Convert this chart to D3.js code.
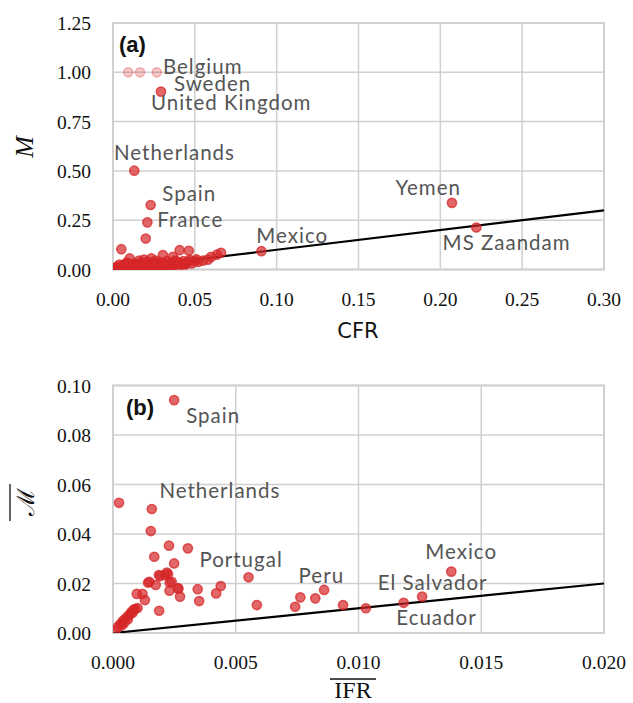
<!DOCTYPE html>
<html>
<head>
<meta charset="UTF-8">
<style>
  body { margin: 0; background: #fff; }
  .tick-label { font-family: "Liberation Serif", serif; font-size: 19.5px; fill: #111; }
  .country { font-family: Lato, sans-serif; font-size: 20.5px; fill: #555; letter-spacing: 1px; }
  .panel { font-family: "Liberation Sans", sans-serif; font-size: 22px; font-weight: bold; fill: #111; }
</style>
</head>
<body>
<svg id="chart" width="633" height="703"></svg>
<script src="https://d3js.org/d3.v7.min.js"></script>
<script>
// ---- panel (a): M vs CFR ----
const topCFR = [0.0293, 0.013, 0.023, 0.021, 0.020, 0.0907, 0.2071, 0.222,
  0.0051, 0.0102, 0.0234, 0.0305, 0.0366, 0.0407, 0.0463, 0.051, 0.060, 0.066, 0.0635,
  0.001, 0.002, 0.003, 0.004, 0.005, 0.006, 0.007, 0.008, 0.009, 0.010, 0.011, 0.012,
  0.013, 0.014, 0.015, 0.016, 0.017, 0.018, 0.019, 0.020, 0.021, 0.022, 0.023, 0.024,
  0.025, 0.026, 0.027, 0.028, 0.029, 0.030, 0.031, 0.032, 0.033, 0.034, 0.035, 0.036,
  0.037, 0.038, 0.039, 0.040, 0.042, 0.043, 0.045, 0.047, 0.048, 0.050, 0.052, 0.055,
  0.058, 0.003, 0.006, 0.009, 0.012, 0.015, 0.018, 0.021, 0.024, 0.027, 0.030, 0.033,
  0.004, 0.008, 0.016, 0.019, 0.0085,
  0.0015, 0.0045, 0.0075, 0.0105, 0.0135, 0.0165, 0.0195, 0.0225, 0.0255, 0.0285,
  0.0315, 0.0345, 0.0375, 0.0405, 0.0435, 0.0025, 0.0065, 0.0115, 0.0145, 0.0175,
  0.0205, 0.0245, 0.0265, 0.0295, 0.0325, 0.0355, 0.0385, 0.0415, 0.0445, 0.046];
const topM = [0.902, 0.501, 0.327, 0.239, 0.157, 0.093, 0.338, 0.213,
  0.103, 0.056, 0.056, 0.073, 0.064, 0.098, 0.095, 0.051, 0.064, 0.085, 0.075,
  0.002, 0.005, 0.010, 0.004, 0.015, 0.008, 0.020, 0.003, 0.012, 0.025, 0.007, 0.018,
  0.030, 0.010, 0.022, 0.005, 0.035, 0.015, 0.028, 0.008, 0.040, 0.020, 0.012, 0.032,
  0.018, 0.045, 0.025, 0.010, 0.038, 0.022, 0.015, 0.030, 0.042, 0.020, 0.028, 0.035,
  0.018, 0.045, 0.030, 0.038, 0.025, 0.042, 0.035, 0.048, 0.030, 0.042, 0.038, 0.045,
  0.050, 0.000, 0.001, 0.000, 0.002, 0.000, 0.001, 0.002, 0.000, 0.003, 0.005, 0.008,
  0.025, 0.030, 0.045, 0.050, 0.035,
  0.008, 0.006, 0.012, 0.004, 0.014, 0.010, 0.016, 0.006, 0.012, 0.018,
  0.010, 0.014, 0.022, 0.016, 0.020, 0.015, 0.022, 0.026, 0.020, 0.024,
  0.028, 0.022, 0.034, 0.014, 0.018, 0.024, 0.012, 0.030, 0.028, 0.040];
// Belgium is off the scale (M > 1), drawn faded at 1
const belgiumCFR = [0.0093, 0.0165, 0.0267];
const belgiumM = [1.0, 1.0, 1.0];
const topNames = ["Belgium", "Sweden", "United Kingdom", "Netherlands", "Spain", "France", "Mexico", "Yemen", "MS Zaandam"];
const topNameX = [0.0305, 0.0372, 0.0232, 0.0006, 0.0301, 0.027, 0.0876, 0.1726, 0.2014];
const topNameY = [0.992, 0.906, 0.809, 0.555, 0.349, 0.216, 0.132, 0.378, 0.098];
const topXTicks = [0, 0.05, 0.10, 0.15, 0.20, 0.25, 0.30];
const topYTicks = [0, 0.25, 0.50, 0.75, 1.00, 1.25];

// ---- panel (b): M-bar vs IFR-bar ----
const botIFR = [0.00249, 0.000245, 0.00158, 0.00154, 0.00228, 0.00305, 0.00168, 0.00249,
  0.00552, 0.00192, 0.00219, 0.00212, 0.00148, 0.00174, 0.00239, 0.00266, 0.0023, 0.00273,
  0.00345, 0.00439, 0.0042, 0.00351, 0.00188, 0.00586, 0.00097, 0.0012, 0.0013, 0.00187,
  0.00224, 0.00143, 0.00231, 0.00265,
  0.00742, 0.00763, 0.00824, 0.0086, 0.00937, 0.0103, 0.01184, 0.01259, 0.01378,
  0.0001, 0.0002, 0.0003, 0.0004, 0.00045, 0.0005, 0.0006, 0.0007, 0.00075, 0.0008,
  0.00085, 0.0009, 0.001, 0.0006, 0.00035];
const botM = [0.0941, 0.0526, 0.0501, 0.0412, 0.0353, 0.0342, 0.0308, 0.0281,
  0.0225, 0.0230, 0.0244, 0.0234, 0.0207, 0.0194, 0.0207, 0.0180, 0.0171, 0.0147,
  0.0177, 0.0190, 0.0160, 0.0129, 0.0090, 0.0113, 0.0158, 0.0158, 0.0133, 0.0234,
  0.0238, 0.0203, 0.0203, 0.0180,
  0.0106, 0.0144, 0.0140, 0.0174, 0.0113, 0.0100, 0.0122, 0.0147, 0.0248,
  0.0010, 0.0025, 0.0036, 0.0048, 0.0040, 0.0057, 0.0068, 0.0076, 0.0085, 0.0082,
  0.0095, 0.0097, 0.0101, 0.0055, 0.0030];
const botNames = ["Spain", "Netherlands", "Portugal", "Peru", "Mexico", "El Salvador", "Ecuador"];
const botNameX = [0.00298, 0.00189, 0.00352, 0.00756, 0.01272, 0.01078, 0.01154];
const botNameY = [0.0847, 0.0544, 0.0268, 0.0203, 0.0298, 0.0174, 0.0032];
const botXTicks = [0, 0.005, 0.010, 0.015, 0.020];
const botYTicks = [0, 0.02, 0.04, 0.06, 0.08, 0.10];

const svg = d3.select("#chart");
const red = "#d62728";

function panel(opt) {
  const x = d3.scaleLinear().domain(opt.xDomain).range([113, 604]);
  const y = d3.scaleLinear().domain(opt.yDomain).range([opt.bottom, opt.top]);
  const g = svg.append("g");
  const clipId = "clip" + opt.id;
  g.append("clipPath").attr("id", clipId).append("rect")
    .attr("x", 113).attr("y", opt.top).attr("width", 491).attr("height", opt.bottom - opt.top);

  // grid
  g.selectAll(".vg").data(opt.xTicks).enter().append("line")
    .attr("x1", d => x(d)).attr("x2", d => x(d)).attr("y1", opt.top).attr("y2", opt.bottom)
    .attr("stroke", "#d0d0d0").attr("stroke-width", 1.5);
  g.selectAll(".hg").data(opt.yTicks).enter().append("line")
    .attr("y1", d => y(d)).attr("y2", d => y(d)).attr("x1", 113).attr("x2", 604)
    .attr("stroke", "#d0d0d0").attr("stroke-width", 1.5);
  g.append("rect").attr("x", 113).attr("y", opt.top).attr("width", 491).attr("height", opt.bottom - opt.top)
    .attr("fill", "none").attr("stroke", "#d0d0d0").attr("stroke-width", 2);

  // tick labels
  g.selectAll(".xt").data(opt.xTicks).enter().append("text").attr("class", "tick-label")
    .attr("x", d => x(d)).attr("y", opt.bottom + 36).attr("text-anchor", "middle")
    .text(d => d3.format(opt.xFmt)(d));
  g.selectAll(".yt").data(opt.yTicks).enter().append("text").attr("class", "tick-label")
    .attr("x", 91).attr("y", d => y(d) + 7).attr("text-anchor", "end")
    .text(d => d3.format(opt.yFmt)(d));

  // y = x reference line
  const plot = g.append("g").attr("clip-path", `url(#${clipId})`);
  plot.append("line")
    .attr("x1", x(0)).attr("y1", y(0)).attr("x2", x(opt.xDomain[1])).attr("y2", y(opt.xDomain[1]))
    .attr("stroke", "#000").attr("stroke-width", 2.2);

  // points
  if (opt.fadedX) {
    plot.selectAll(".fp").data(opt.fadedX).enter().append("circle")
      .attr("cx", d => x(d)).attr("cy", (d, i) => y(opt.fadedY[i])).attr("r", 4.6)
      .attr("fill", red).attr("fill-opacity", 0.25)
      .attr("stroke", red).attr("stroke-opacity", 0.3).attr("stroke-width", 1.5);
  }
  plot.selectAll(".pt").data(opt.px).enter().append("circle")
    .attr("cx", d => x(d)).attr("cy", (d, i) => y(opt.py[i])).attr("r", 4.6)
    .attr("fill", red).attr("fill-opacity", 0.7)
    .attr("stroke", red).attr("stroke-opacity", 0.75).attr("stroke-width", 1.5);

  // country labels
  g.selectAll(".nm").data(opt.names).enter().append("text").attr("class", "country")
    .attr("x", (d, i) => x(opt.nameX[i])).attr("y", (d, i) => y(opt.nameY[i]))
    .text(d => d);

  return { x, y, g };
}

const a = panel({ id: "a", xDomain: [0, 0.30], yDomain: [0, 1.25], top: 23, bottom: 269.5,
  xTicks: topXTicks, yTicks: topYTicks, xFmt: ".2f", yFmt: ".2f",
  px: topCFR, py: topM, fadedX: belgiumCFR, fadedY: belgiumM,
  names: topNames, nameX: topNameX, nameY: topNameY });

const b = panel({ id: "b", xDomain: [0, 0.020], yDomain: [0, 0.10], top: 385.5, bottom: 633,
  xTicks: botXTicks, yTicks: botYTicks, xFmt: ".3f", yFmt: ".2f",
  px: botIFR, py: botM, names: botNames, nameX: botNameX, nameY: botNameY });

// panel tags
svg.append("text").attr("class", "panel").attr("x", 119).attr("y", 52).text("(a)");
svg.append("text").attr("class", "panel").attr("x", 126).attr("y", 415).text("(b)");

// axis titles
svg.append("text").attr("x", 358).attr("y", 338).attr("text-anchor", "middle")
  .style("font-family", "DejaVu Sans, sans-serif").style("font-size", "21px").style("fill", "#111")
  .text("CFR");
svg.append("text").attr("transform", "translate(33,147) rotate(-90)").attr("text-anchor", "middle")
  .style("font-family", "Liberation Serif, serif").style("font-style", "italic")
  .style("font-size", "26px").style("fill", "#111").text("M");

svg.append("text").attr("x", 353).attr("y", 698).attr("text-anchor", "middle")
  .style("font-family", "Liberation Serif, serif").style("font-size", "24px").style("fill", "#111")
  .text("IFR");
svg.append("line").attr("x1", 330).attr("x2", 376).attr("y1", 679).attr("y2", 679)
  .attr("stroke", "#111").attr("stroke-width", 1.3);

svg.append("text").attr("transform", "translate(34,502) rotate(-90)").attr("text-anchor", "middle")
  .style("font-family", "DejaVu Serif, serif").style("font-size", "24px").style("fill", "#111")
  .text("\u2133");
svg.append("line").attr("x1", 10).attr("x2", 10).attr("y1", 484).attr("y2", 521)
  .attr("stroke", "#111").attr("stroke-width", 1.3);
</script>
</body>
</html>
